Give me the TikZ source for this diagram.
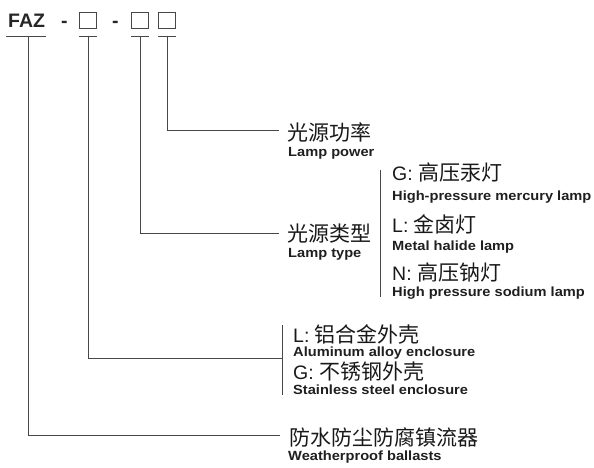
\documentclass[tikz,border=0pt]{standalone}
\usepackage{fontspec}
\setmainfont{Liberation Sans}
\newfontfamily\cjk{Noto Sans CJK SC}
\newfontfamily\enb[FakeStretch=1.1]{Liberation Sans}
\newcommand{\optlbl}[2]{{\fontsize{19.5}{20}\selectfont #1: }{\cjk\fontsize{21}{21}\selectfont #2}}
\begin{document}
\begin{tikzpicture}[x=1pt,y=-1pt,
  ln/.style={draw=black!72, line width=0.9pt},
  cn/.style={anchor=base west, inner sep=0pt, text=black!90, font=\cjk\fontsize{21}{21}\selectfont},
  en/.style={anchor=base west, inner sep=0pt, text=black!88, font=\enb\bfseries\fontsize{13.3}{14}\selectfont},
  op/.style={anchor=base west, inner sep=0pt, text=black!90},
  hd/.style={anchor=base west, inner sep=0pt, text=black!85, font=\bfseries\fontsize{19.5}{20}\selectfont},
  bx/.style={draw=black!72, line width=0.9pt, minimum width=17pt, minimum height=16pt, inner sep=0pt}]
\useasboundingbox (0,0) rectangle (594,468);
% header
\node[hd] (faz) at (8,28) {FAZ};
\node[hd] (d1) at (61,28) {-};
\node[bx] (b1) at (88,20.2) {};
\node[hd] (d2) at (112,28) {-};
\node[bx] (b2) at (140,20.2) {};
\node[bx] (b3) at (167,20.2) {};
% underlines
\coordinate (ua0) at (6,36);   \coordinate (ub0) at (46,36);
\coordinate (ua1) at (79,36);  \coordinate (ub1) at (97,36);
\coordinate (ua2) at (131,36); \coordinate (ub2) at (149,36);
\coordinate (ua3) at (158,36); \coordinate (ub3) at (176,36);
\coordinate (u0) at (28,36);
\coordinate (u1) at (88,36);
\coordinate (u2) at (140,36);
\coordinate (u3) at (167,36);
\draw[ln] (ua0) -- (ub0);
\draw[ln] (ua1) -- (ub1);
\draw[ln] (ua2) -- (ub2);
\draw[ln] (ua3) -- (ub3);
% line ends
\coordinate (e3) at (279,130);
\coordinate (e2) at (279,233);
\coordinate (e1) at (282,358);
\coordinate (e0) at (280,435);
\draw[ln] (u3) |- (e3);
\draw[ln] (u2) |- (e2);
\draw[ln] (u1) |- (e1);
\draw[ln] (u0) |- (e0);
% brackets
\coordinate (k2a) at (380,170); \coordinate (k2b) at (380,297);
\coordinate (k1a) at (282,325); \coordinate (k1b) at (282,395);
\draw[ln] (k2a) -- (k2b);
\draw[ln] (k1a) -- (k1b);
% lamp power
\node[cn] (pw) at (287,140.5) {光源功率};
\node[en] (pwe) at (288,157) {Lamp power};
% lamp type
\node[cn] (ty) at (287,241) {光源类型};
\node[en] (tye) at (288,257) {Lamp type};
\node[op] (g1) at (392,180) {\optlbl{G}{高压汞灯}};
\node[en] (g1e) at (392,200) {High-pressure mercury lamp};
\node[op] (l1) at (392,232) {\optlbl{L}{金卤灯}};
\node[en] (l1e) at (392,250) {Metal halide lamp};
\node[op] (n1) at (392,280) {\optlbl{N}{高压钠灯}};
\node[en] (n1e) at (392,296) {High pressure sodium lamp};
% enclosure
\node[op] (l2) at (293,342) {\optlbl{L}{铝合金外壳}};
\node[en] (l2e) at (293,356) {Aluminum alloy enclosure};
\node[op] (g2) at (293,379) {\optlbl{G}{不锈钢外壳}};
\node[en] (g2e) at (293,394.5) {Stainless steel enclosure};
% ballast
\node[cn] (bl) at (289,445) {防水防尘防腐镇流器};
\node[en] (ble) at (288,460) {Weatherproof ballasts};
\end{tikzpicture}
\end{document}
